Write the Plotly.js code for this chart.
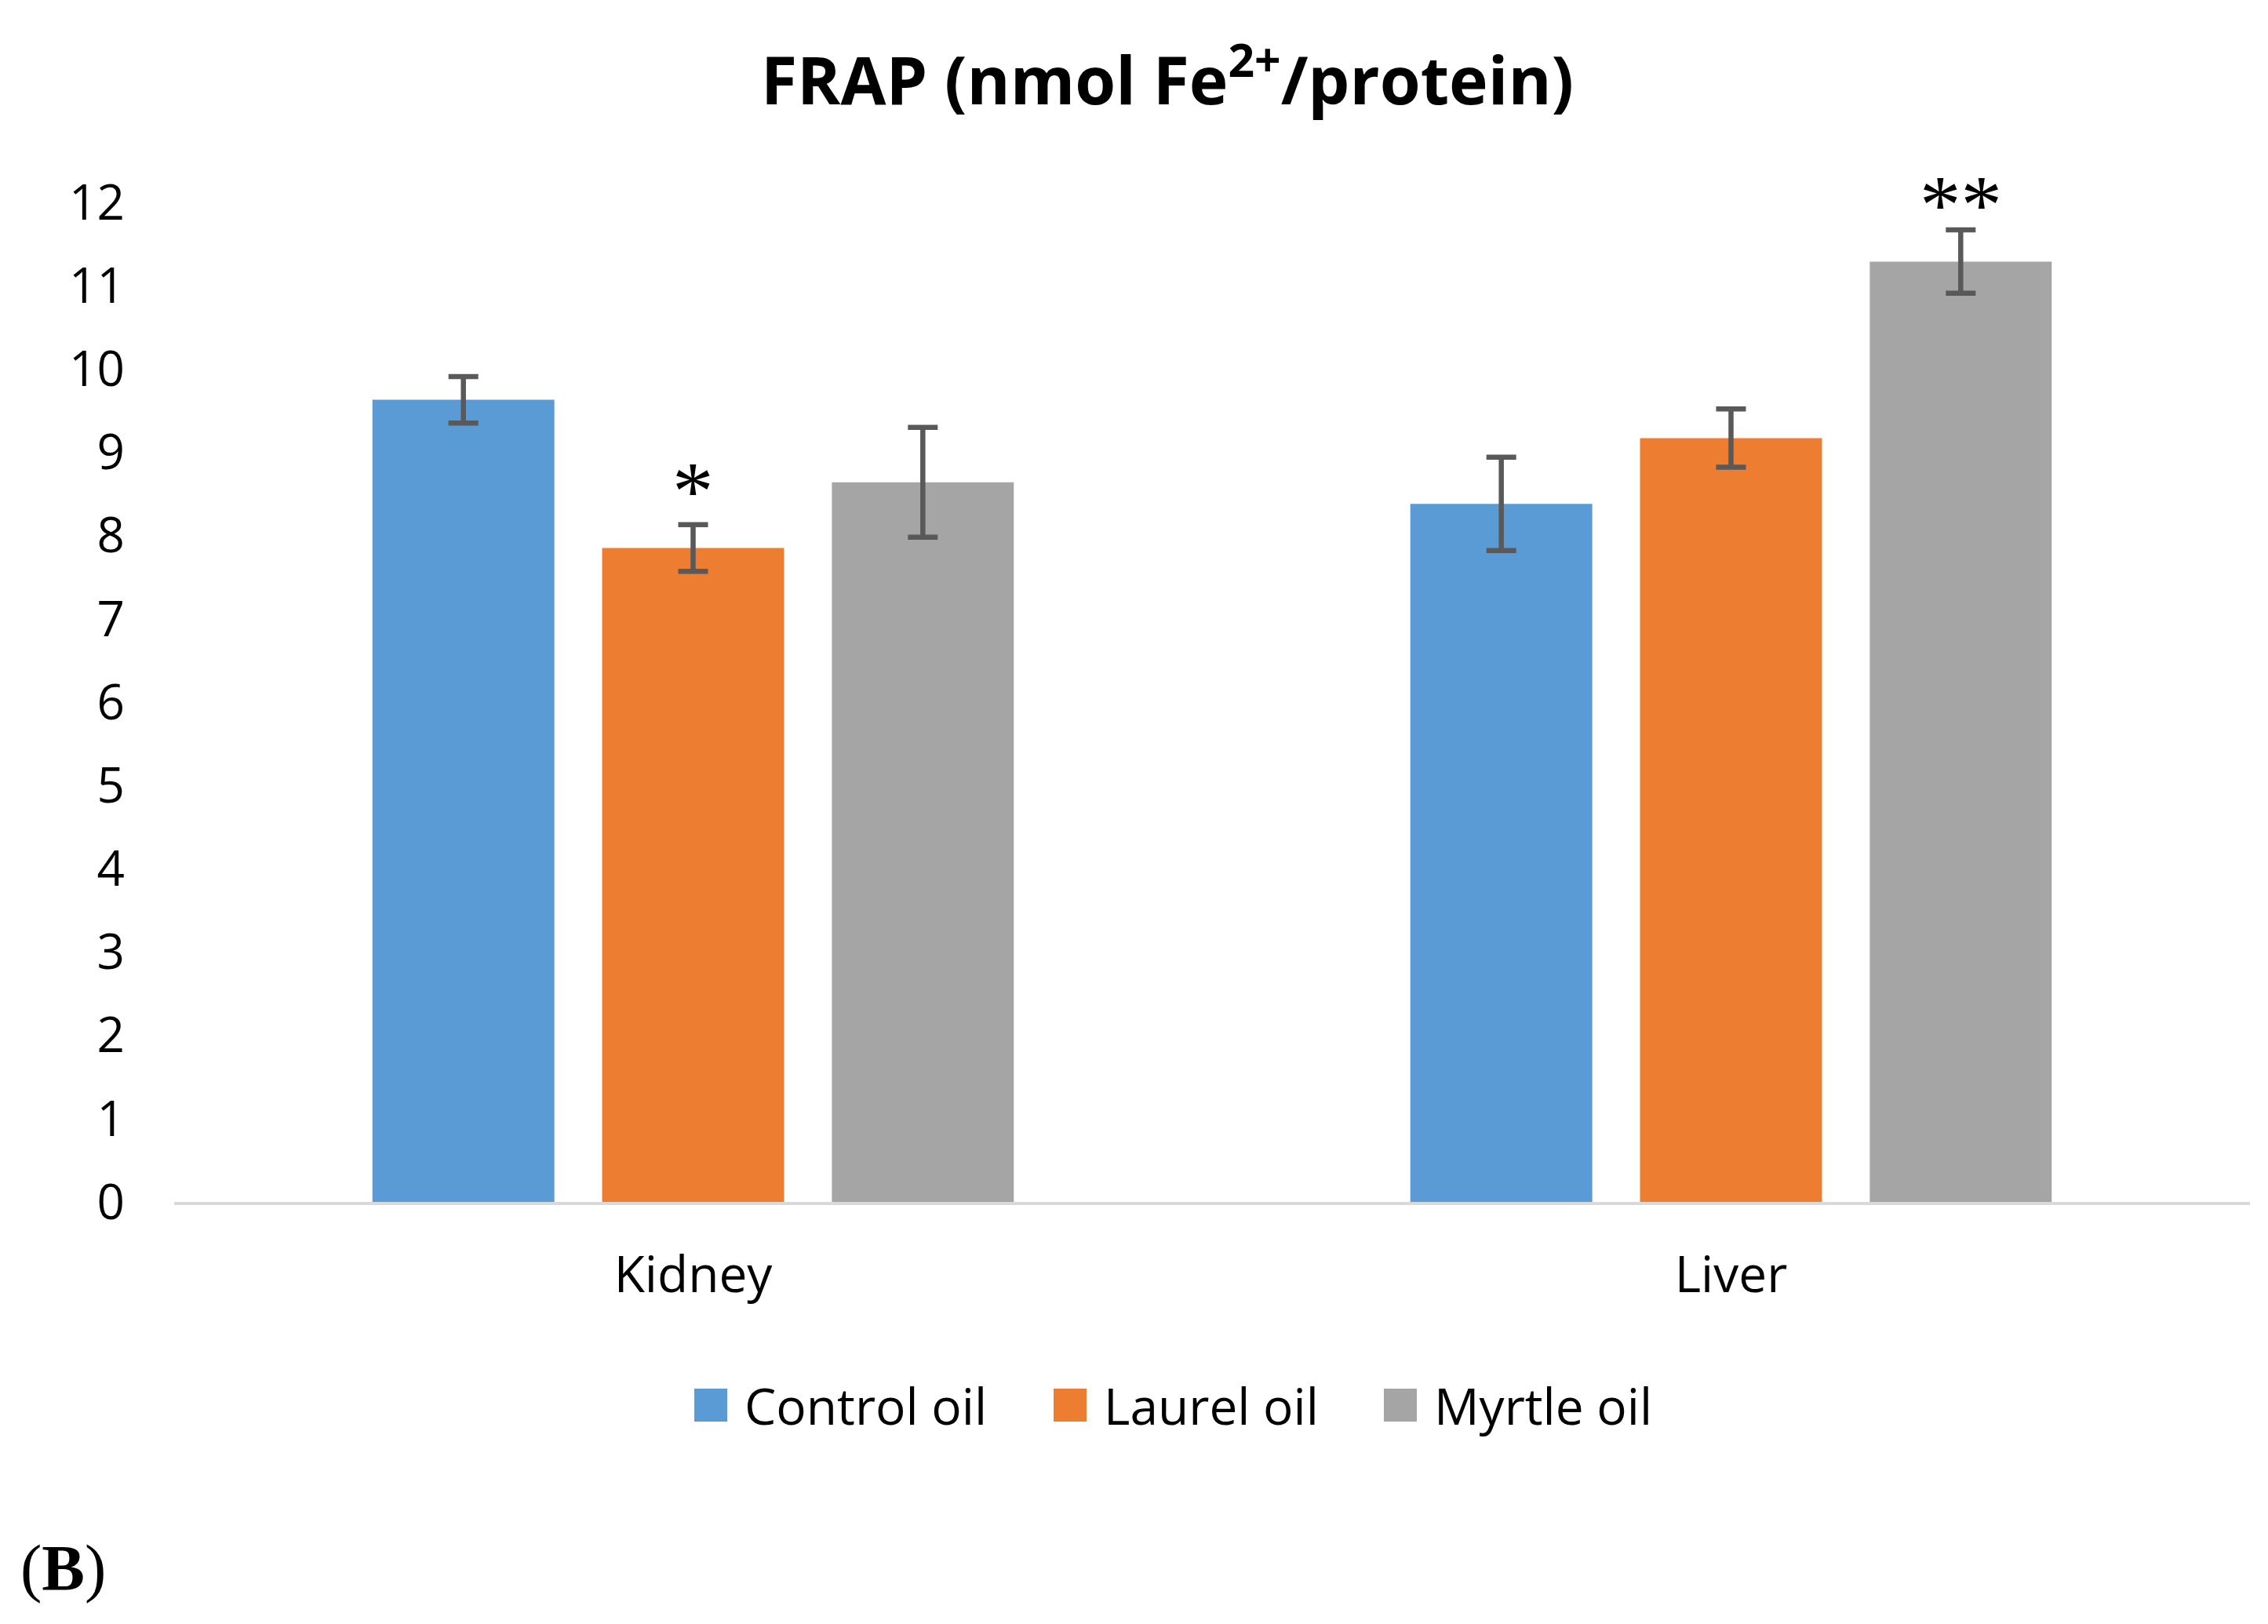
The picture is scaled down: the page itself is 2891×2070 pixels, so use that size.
<!DOCTYPE html>
<html>
<head>
<meta charset="utf-8">
<script src="https://cdn.plot.ly/plotly-3.0.1.min.js"></script>
<style>html,body{margin:0;padding:0;background:#fff;}#chart{width:2891px;height:2070px;}</style>
</head>
<body>
<div id="chart"></div>
<script>
// ---- data ----
const categories = ['Kidney', 'Liver'];
const seriesNames = ['Control oil', 'Laurel oil', 'Myrtle oil'];
const controlOil = [9.63, 8.38];
const controlErr = [0.28, 0.56];
const laurelOil = [7.85, 9.17];
const laurelErr = [0.28, 0.35];
const myrtleOil = [8.64, 11.29];
const myrtleErr = [0.66, 0.38];
const sigKidney = ['', '*', ''];
const sigLiver = ['', '', '**'];
const yTicks = [0,1,2,3,4,5,6,7,8,9,10,11,12];

const colors = ['#5B9BD5', '#ED7D31', '#A5A5A5'];
const values = [controlOil, laurelOil, myrtleOil];
const errs = [controlErr, laurelErr, myrtleErr];
const sigs = [sigKidney, sigLiver];

const W = 2891, H = 2070;
const M = {l: 222, r: 23, t: 258, b: 538};
const plotW = W - M.l - M.r, plotH = H - M.t - M.b;
const bargap = 0.336, bargroupgap = 0.208;

const traces = seriesNames.map((name, i) => ({
  type: 'bar', name: name, x: categories, y: values[i],
  marker: {color: colors[i]},
  error_y: {type: 'data', array: errs[i], visible: true, color: '#595959', thickness: 6.5, width: 19},
  showlegend: false, hoverinfo: 'skip'
}));

const slotPx = plotW / categories.length * (1 - bargap) / seriesNames.length;
const annotations = [];
categories.forEach((c, ci) => {
  sigs[ci].forEach((s, si) => {
    if (!s) return;
    annotations.push({
      x: c, y: values[si][ci], xref: 'x', yref: 'y', text: s, showarrow: false,
      xshift: (si - 1) * slotPx, yshift: 72, yanchor: 'middle',
      font: {family: 'Liberation Serif', size: 105, color: '#000'}
    });
  });
});

// manual legend
const legX = [885, 1343, 1764];
const legY = 1791, sq = 42;
const shapes = [];
seriesNames.forEach((n, i) => {
  shapes.push({type: 'rect', xref: 'paper', yref: 'paper',
    x0: (legX[i] - M.l) / plotW, x1: (legX[i] + sq - M.l) / plotW,
    y0: (M.t + plotH - legY - sq / 2) / plotH, y1: (M.t + plotH - legY + sq / 2) / plotH,
    fillcolor: colors[i], line: {width: 0}});
  annotations.push({xref: 'paper', yref: 'paper', x: (legX[i] + sq + 20 - M.l) / plotW,
    y: (M.t + plotH - legY) / plotH, xanchor: 'left', yanchor: 'middle', showarrow: false,
    text: n, font: {family: 'Open Sans', size: 64, color: '#000'}});
});

annotations.push({xref: 'paper', yref: 'paper', x: (24 - M.l) / plotW, y: (M.t + plotH - 1999) / plotH,
  xanchor: 'left', yanchor: 'middle', showarrow: false, text: '(<b>B</b>)',
  font: {family: 'Liberation Serif', size: 82, color: '#000'}});

const layout = {
  width: W, height: H, margin: M,
  paper_bgcolor: '#fff', plot_bgcolor: '#fff',
  barmode: 'group', bargap: bargap, bargroupgap: bargroupgap,
  title: {text: '<b>FRAP (nmol Fe<sup>2+</sup>/protein)</b>', x: (1488 - M.l) / plotW, xref: 'paper',
    xanchor: 'center', y: 1 - 104 / H, yanchor: 'middle',
    font: {family: 'Open Sans', size: 84, color: '#000'}},
  xaxis: {type: 'category', showline: true, linecolor: '#D9D9D9', linewidth: 4, ticks: '',
    showgrid: false, zeroline: false, tickfont: {family: 'Open Sans', size: 64, color: '#000'},
    ticklabelstandoff: 34},
  yaxis: {range: [0, 12], tickvals: yTicks, ticks: '', showgrid: false, zeroline: false, showline: false,
    tickfont: {family: 'Open Sans', size: 62, color: '#000'}, ticklabelstandoff: 62},
  shapes: shapes, annotations: annotations, showlegend: false
};

Plotly.newPlot('chart', traces, layout, {displayModeBar: false, staticPlot: true});
</script>
</body>
</html>
